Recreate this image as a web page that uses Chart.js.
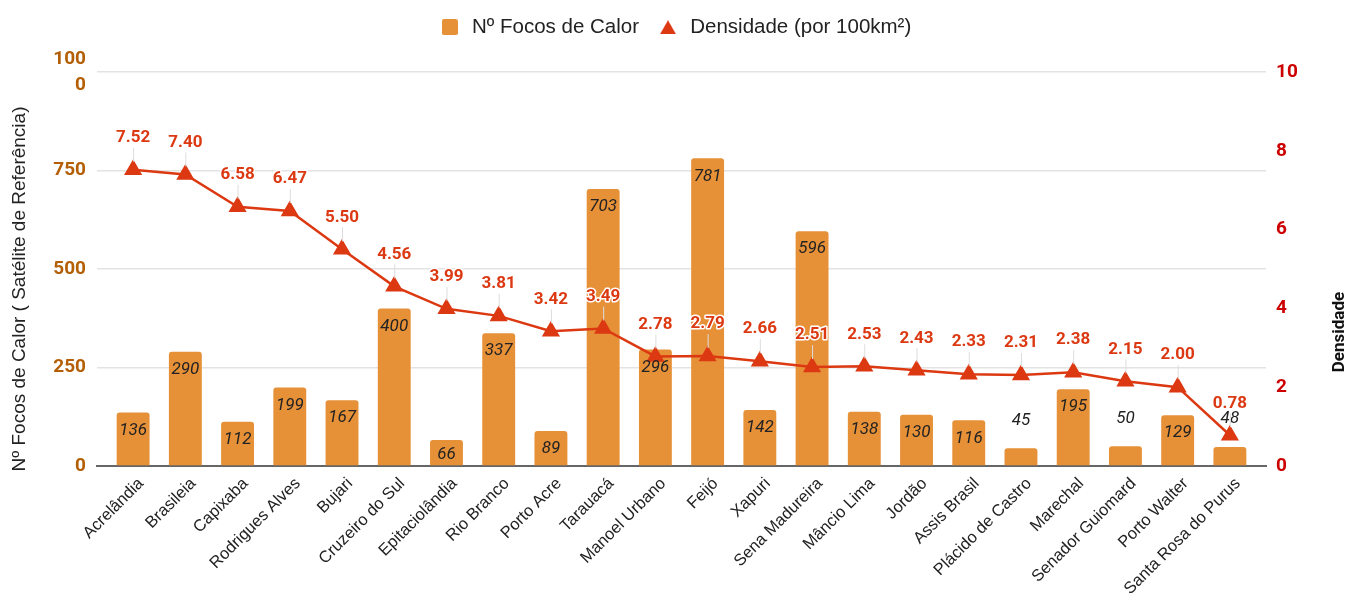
<!DOCTYPE html>
<html>
<head>
<meta charset="utf-8">
<script src="https://cdn.jsdelivr.net/npm/chart.js@4.4.1/dist/chart.umd.min.js"></script>
<style>
  body { margin: 0; background: #fff; }
  #wrap { width: 1349px; height: 601px; }
</style>
</head>
<body>
<div id="wrap"><canvas id="myChart"></canvas></div>
<script>
// municipios do Acre
const municipios = ["Acrelândia", "Brasileia", "Capixaba", "Rodrigues Alves", "Bujari", "Cruzeiro do Sul",
    "Epitaciolândia", "Rio Branco", "Porto Acre", "Tarauacá", "Manoel Urbano", "Feijó", "Xapuri",
    "Sena Madureira", "Mâncio Lima", "Jordão", "Assis Brasil", "Plácido de Castro", "Marechal",
    "Senador Guiomard", "Porto Walter", "Santa Rosa do Purus"];
const focos = [136, 290, 112, 199, 167, 400, 66, 337, 89, 703, 296, 781, 142, 596, 138, 130, 116, 45, 195, 50, 129, 48];
const densidade = [7.52, 7.40, 6.58, 6.47, 5.50, 4.56, 3.99, 3.81, 3.42, 3.49, 2.78, 2.79, 2.66, 2.51, 2.53, 2.43, 2.33, 2.31, 2.38, 2.15, 2.00, 0.78];
const ticksFocos = [0, 250, 500, 750, 1000];
const ticksDens = [0, 2, 4, 6, 8, 10];

const laranja = '#e69138';
const vermelho = '#dc3912';

// icones da legenda
const quadrado = document.createElement('canvas');
quadrado.width = 16;
quadrado.height = 16;
const qctx = quadrado.getContext('2d');
qctx.fillStyle = laranja;
qctx.beginPath();
qctx.roundRect(0, 0, 16, 16, 2);
qctx.fill();

const triangulo = document.createElement('canvas');
triangulo.width = 16;
triangulo.height = 14;
const tctx = triangulo.getContext('2d');
tctx.fillStyle = vermelho;
tctx.beginPath();
tctx.moveTo(8, 0);
tctx.lineTo(16, 14);
tctx.lineTo(0, 14);
tctx.closePath();
tctx.fill();

// rotulos de valores + titulos dos eixos
const labelsPlugin = {
    id: 'labels',
    beforeInit(chart) {
        if (chart.legend) {
            const fit = chart.legend.fit;
            chart.legend.fit = function () {
                fit.call(this);
                this.height = 72;
            };
        }
    },
    afterLayout(chart) {
        // folga nas bordas do eixo x como no grafico original
        const x = chart.scales.x;
        x._startPixel += 10;
        x._endPixel -= 10;
        x._length -= 20;
    },
    afterDatasetsDraw(chart) {
        const ctx = chart.ctx;
        ctx.save();
        ctx.textAlign = 'center';
        ctx.textBaseline = 'middle';

        // barras
        const barras = chart.getDatasetMeta(0).data;
        ctx.font = 'italic 17px Roboto';
        barras.forEach(function (bar, i) {
            const h = bar.base - bar.y;
            let y = h > 20 ? Math.min(bar.y + 18, bar.base - 11) : bar.y - 28;
            ctx.fillStyle = '#222';
            ctx.fillText(focos[i], bar.x, y);
        });

        // linha
        const pontos = chart.getDatasetMeta(1).data;
        ctx.font = 'bold 17px Roboto';
        pontos.forEach(function (p, i) {
            ctx.strokeStyle = '#dddddd';
            ctx.lineWidth = 1;
            ctx.beginPath();
            ctx.moveTo(p.x + 0.5, p.y - 8);
            ctx.lineTo(p.x + 0.5, p.y - 22);
            ctx.stroke();
            const txt = densidade[i].toFixed(2);
            ctx.strokeStyle = '#fff';
            ctx.lineWidth = 3;
            ctx.lineJoin = 'round';
            ctx.strokeText(txt, p.x, p.y - 32);
            ctx.fillStyle = vermelho;
            ctx.fillText(txt, p.x, p.y - 32);
        });
        ctx.restore();
    },
    afterDraw(chart) {
        const ctx = chart.ctx;
        const area = chart.chartArea;
        const meio = (area.top + area.bottom) / 2;
        ctx.save();
        ctx.textAlign = 'center';
        ctx.textBaseline = 'middle';
        ctx.fillStyle = '#222';
        ctx.font = '19px "Liberation Sans", Arial';
        ctx.translate(20, meio + 20);
        ctx.rotate(-Math.PI / 2);
        ctx.fillText('Nº Focos de Calor ( Satélite de Referência)', 0, 0);
        ctx.restore();

        ctx.save();
        ctx.textAlign = 'center';
        ctx.textBaseline = 'middle';
        ctx.fillStyle = '#111';
        ctx.font = 'bold 17px Roboto';
        ctx.translate(1340, meio + 63);
        ctx.rotate(-Math.PI / 2);
        ctx.fillText('Densidade', 0, 0);
        ctx.restore();
    }
};

const ctx = document.getElementById('myChart').getContext('2d');
const myChart = new Chart(ctx, {
    type: 'bar',
    data: {
        labels: municipios,
        datasets: [{
            label: 'Nº Focos de Calor',
            data: focos,
            backgroundColor: laranja,
            borderRadius: 3,
            borderSkipped: 'bottom',
            barPercentage: 0.63,
            categoryPercentage: 1,
            yAxisID: 'y',
            order: 1
        }, {
            type: 'line',
            label: 'Densidade (por 100km²)',
            data: densidade,
            borderColor: vermelho,
            backgroundColor: vermelho,
            borderWidth: 2.5,
            pointStyle: 'triangle',
            pointRadius: 8,
            pointHoverRadius: 8,
            yAxisID: 'y1',
            order: 0
        }]
    },
    options: {
        responsive: true,
        maintainAspectRatio: false,
        animation: false,
        layout: { padding: { top: 0, left: 0, right: 0, bottom: 0 } },
        plugins: {
            tooltip: { enabled: false },
            legend: {
                position: 'top',
                labels: {
                    usePointStyle: true,
                    pointStyleWidth: 24,
                    boxHeight: 14,
                    padding: 17,
                    color: '#222',
                    font: { family: '"Liberation Sans", Arial', size: 20.5 },
                    sort: (a, b) => a.datasetIndex - b.datasetIndex,
                    generateLabels: function (chart) {
                        const itens = Chart.defaults.plugins.legend.labels.generateLabels(chart);
                        itens.forEach(function (it) {
                            it.pointStyle = it.datasetIndex === 0 ? quadrado : triangulo;
                        });
                        return itens;
                    }
                }
            }
        },
        scales: {
            x: {
                grid: { display: false },
                border: { display: true, color: '#666', width: 2 },
                ticks: {
                    autoSkip: false,
                    maxRotation: 45,
                    minRotation: 45,
                    color: '#222',
                    padding: 0,
                    labelOffset: 8,
                    font: { family: '"Liberation Sans", Arial', size: 16.5 }
                },
                afterFit: function (s) { s.height = 135; }
            },
            y: {
                position: 'left',
                min: 0,
                max: 1000,
                afterBuildTicks: function (s) { s.ticks = ticksFocos.map(v => ({ value: v })); },
                grid: { color: '#e3e3e3', lineWidth: 1.5, drawTicks: false },
                border: { display: false },
                ticks: {
                    padding: 11,
                    color: '#b45f06',
                    font: { family: 'Roboto', size: 19, weight: 'bold', lineHeight: 1.37 },
                    callback: v => v === 1000 ? ['100', '0'] : v
                },
                afterFit: function (s) { s.width = 97; }
            },
            y1: {
                position: 'right',
                min: 0,
                max: 10,
                afterBuildTicks: function (s) { s.ticks = ticksDens.map(v => ({ value: v })); },
                grid: { display: false, drawTicks: false },
                border: { display: false },
                ticks: {
                    padding: 10,
                    color: '#cc0000',
                    font: { family: 'Roboto', size: 19, weight: 'bold' }
                },
                afterFit: function (s) { s.width = 83; }
            }
        }
    },
    plugins: [labelsPlugin]
});
</script>
</body>
</html>
